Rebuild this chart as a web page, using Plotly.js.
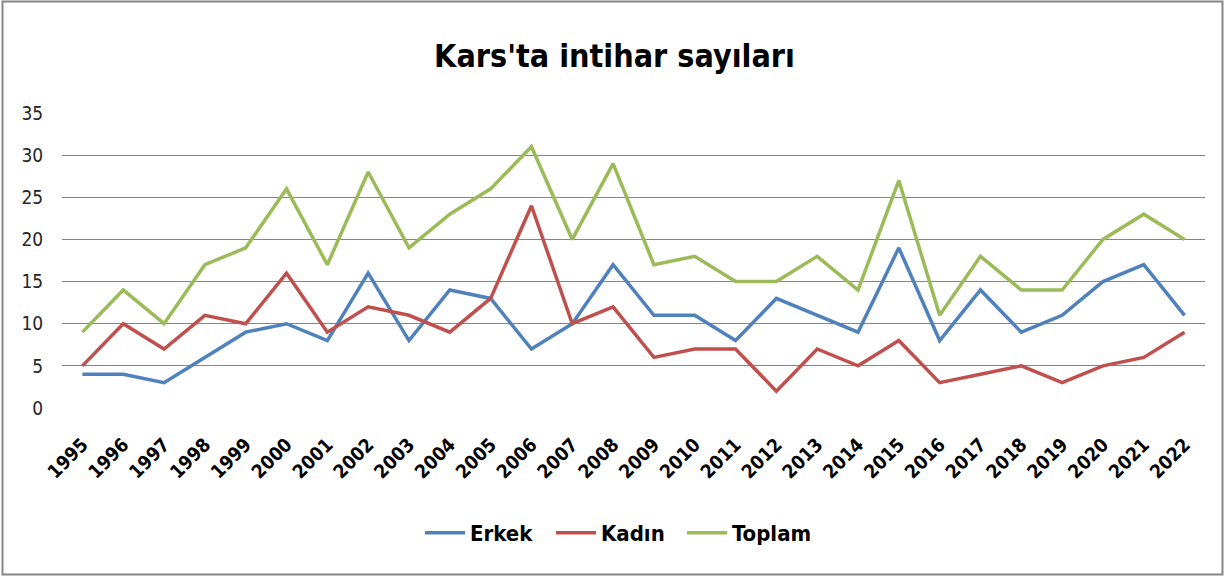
<!DOCTYPE html>
<html><head><meta charset="utf-8">
<script src="https://cdn.plot.ly/plotly-3.0.1.min.js"></script>
<style>html,body{margin:0;padding:0;background:#fff;}#chart{width:1229px;height:576px;}</style>
</head><body><div id="chart"></div>
<script>
const years = ["1995","1996","1997","1998","1999","2000","2001","2002","2003","2004","2005","2006","2007","2008","2009","2010","2011","2012","2013","2014","2015","2016","2017","2018","2019","2020","2021","2022"];
const erkek = [4,4,3,6,9,10,8,16,8,14,13,7,10,17,11,11,8,13,11,9,19,8,14,9,11,15,17,11];
const kadin = [5,10,7,11,10,16,9,12,11,9,13,24,10,12,6,7,7,2,7,5,8,3,4,5,3,5,6,9];
const toplam = [9,14,10,17,19,26,17,28,19,23,26,31,20,29,17,18,15,15,18,14,27,11,18,14,14,20,23,20];
const yTicks = [0,5,10,15,20,25,30,35];

const FONT = '"DejaVu Sans Condensed", "DejaVu Sans", sans-serif';
const mk = (y, name, color) => ({x: years, y: y, name: name, type: 'scatter', mode: 'lines',
  line: {color: color, width: 3.5}});
const data = [mk(erkek,'Erkek','#4F81BD'), mk(kadin,'Kadın','#C0504D'), mk(toplam,'Toplam','#9BBB59')];

const L = 62, R = 1205, T = 113, B = 408;
const W = R - L, H = B - T;
const px = v => (v - L) / W, py = v => (B - v) / H;

const layout = {
  width: 1229, height: 576,
  margin: {l: L, r: 1229 - R, t: T, b: 576 - B},
  paper_bgcolor: '#fff', plot_bgcolor: '#fff',
  title: {text: "Kars'ta intihar sayıları", x: 0.5, xanchor: 'center', y: 1 - 56/576, yanchor: 'middle',
    font: {family: FONT, size: 32, color: '#000', weight: 'bold', stretch: 'condensed'}},
  xaxis: {type: 'category', range: [-0.5, 27.5], tickangle: -45, showgrid: false, showline: false, zeroline: false,
    ticks: 'outside', ticklen: 17, tickcolor: 'rgba(0,0,0,0)',
    tickfont: {family: FONT, size: 19, color: '#000', weight: 'bold', stretch: 'condensed'}, fixedrange: true},
  yaxis: {range: [0, 35], tickvals: yTicks, showgrid: true, gridcolor: '#868686', gridwidth: 1, zeroline: false,
    showline: false, ticks: 'outside', ticklen: 14, tickcolor: 'rgba(0,0,0,0)',
    tickfont: {family: FONT, size: 19, color: '#262626', stretch: 'condensed'}},
  showlegend: true,
  legend: {orientation: 'h', x: 0.5 - 17 / W, xanchor: 'center', y: py(533), yanchor: 'middle',
    font: {family: FONT, size: 22, color: '#000', weight: 'bold', stretch: 'condensed'}, itemwidth: 40,
    entrywidth: 76, entrywidthmode: 'pixels', tracegroupgap: 0},
  shapes: [{type: 'rect', xref: 'paper', yref: 'paper', x0: px(2.5), x1: px(1222.5), y0: py(574.5), y1: py(1.5),
    line: {color: '#868686', width: 2}, fillcolor: 'rgba(0,0,0,0)', layer: 'below'}]
};
Plotly.newPlot('chart', data, layout, {displayModeBar: false, staticPlot: true});
</script></body></html>
